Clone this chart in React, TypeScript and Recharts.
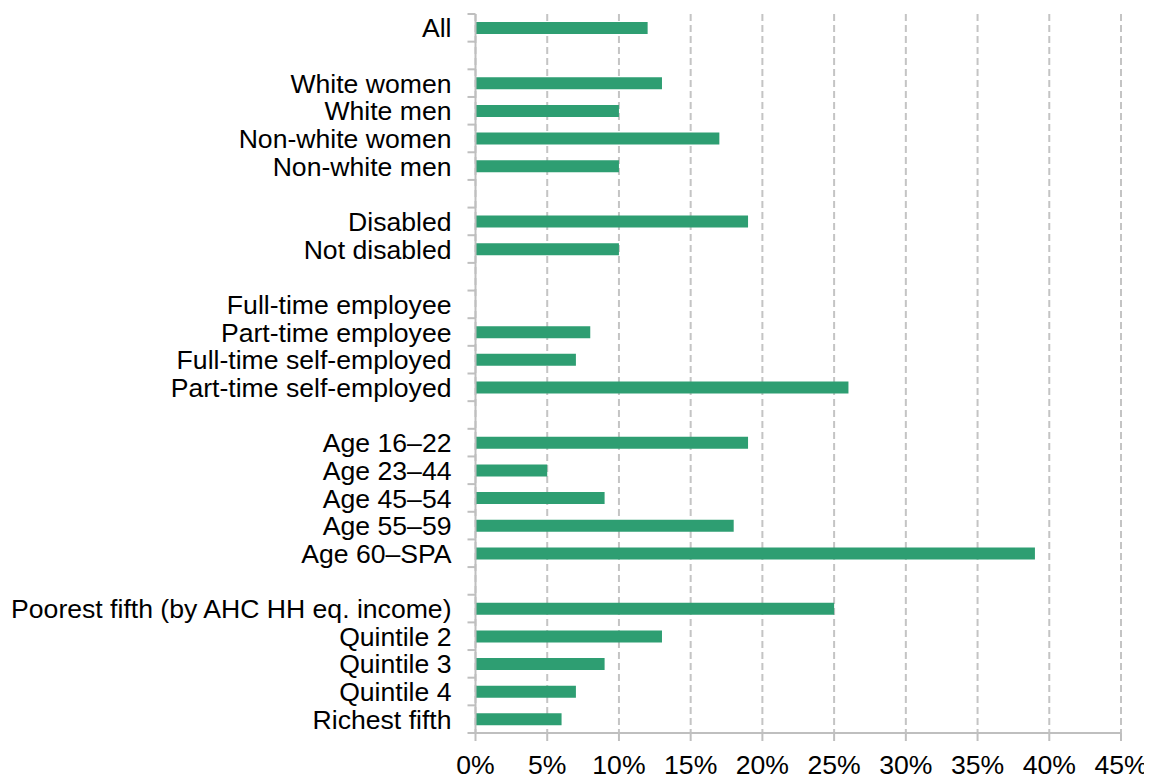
import React from "react";
import { BarChart, Bar, XAxis, YAxis, CartesianGrid } from "recharts";

const categories: string[] = [
  "All",
  "",
  "White women",
  "White men",
  "Non-white women",
  "Non-white men",
  "",
  "Disabled",
  "Not disabled",
  "",
  "Full-time employee",
  "Part-time employee",
  "Full-time self-employed",
  "Part-time self-employed",
  "",
  "Age 16–22",
  "Age 23–44",
  "Age 45–54",
  "Age 55–59",
  "Age 60–SPA",
  "",
  "Poorest fifth (by AHC HH eq. income)",
  "Quintile 2",
  "Quintile 3",
  "Quintile 4",
  "Richest fifth",
];

const values: (number | null)[] = [
  12, null, 13, 10, 17, 10, null, 19, 10, null, null, 8, 7, 26, null, 19, 5, 9,
  18, 39, null, 25, 13, 9, 7, 6,
];

const xTicks: number[] = [0, 5, 10, 15, 20, 25, 30, 35, 40, 45];

const data = categories.map((label, i) => ({ key: `c${i}`, label, value: values[i] }));

const W = 1144;
const H = 768;
const M_TOP = 6;
const X_H = 43;
const STEP = (H - M_TOP - X_H) / categories.length;
const FONT = "'Liberation Sans', Arial, sans-serif";
const FS = 26.6;
const AXIS_COLOR = "#bfbfbf";

const YTick = (props: any) => {
  const { x, y, index } = props;
  const label = categories[index] ?? "";
  const isLast = index === categories.length - 1;
  return (
    <g>
      <line x1={x - 8} x2={x} y1={y - STEP / 2} y2={y - STEP / 2} stroke={AXIS_COLOR} strokeWidth={2} />
      {isLast && (
        <line x1={x - 8} x2={x} y1={y + STEP / 2} y2={y + STEP / 2} stroke={AXIS_COLOR} strokeWidth={2} />
      )}
      <text x={x - 24} y={y} dy="0.36em" textAnchor="end" fontSize={FS} fontFamily={FONT} fill="#000">
        {label}
      </text>
    </g>
  );
};

export default function App() {
  return (
    <div style={{ width: W, height: H, fontFamily: FONT }}>
      <BarChart
        width={W}
        height={H}
        data={data}
        layout="vertical"
        margin={{ top: M_TOP, right: 31, left: 0, bottom: 0 }}
        style={{ overflow: "visible" }}
      >
        <CartesianGrid
          horizontal={false}
          vertical={true}
          stroke="#c4c4c4"
          strokeWidth={2}
          strokeDasharray="7 4"
        />
        <XAxis
          type="number"
          domain={[0, 45]}
          ticks={xTicks}
          interval={0}
          height={X_H}
          tickFormatter={(v: number) => `${v}%`}
          axisLine={{ stroke: AXIS_COLOR, strokeWidth: 2 }}
          tickLine={{ stroke: AXIS_COLOR, strokeWidth: 2 }}
          tickSize={8}
          tickMargin={14}
          tick={{ fontSize: FS, fill: "#000", fontFamily: FONT }}
        />
        <YAxis
          type="category"
          dataKey="key"
          width={467.5}
          interval={0}
          tickLine={false}
          tickSize={0}
          tickMargin={0}
          axisLine={{ stroke: AXIS_COLOR, strokeWidth: 2 }}
          tick={<YTick />}
        />
        <Bar dataKey="value" fill="#2E9E72" barSize={12} isAnimationActive={false} />
      </BarChart>
    </div>
  );
}
